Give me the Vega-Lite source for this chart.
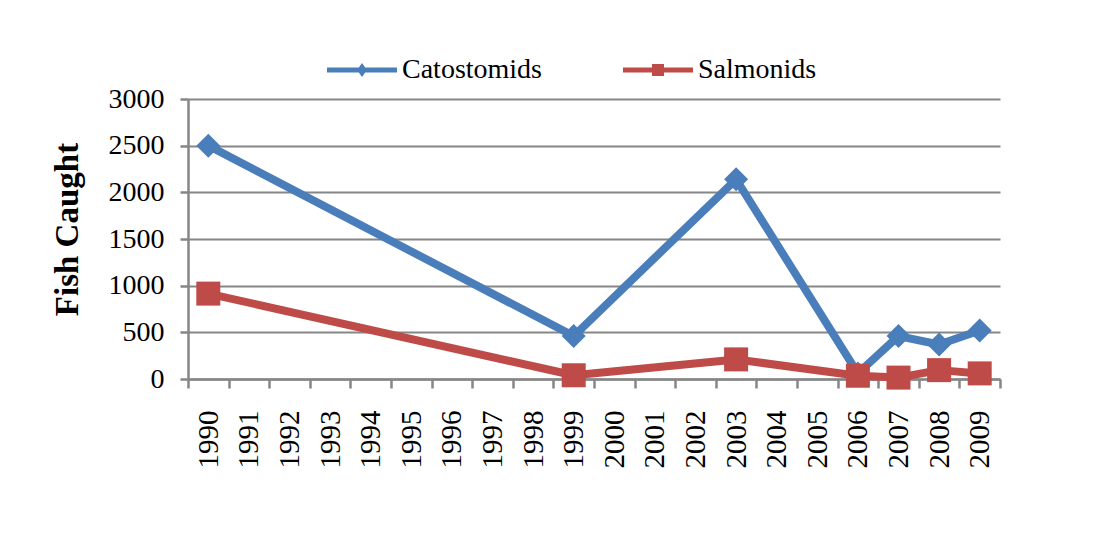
{
  "$schema": "https://vega.github.io/schema/vega-lite/v6.json",
  "width": 812,
  "height": 280,
  "autosize": "none",
  "padding": {"left": 188, "top": 99, "right": 96, "bottom": 173},
  "background": "white",
  "config": {"view": {"stroke": null}, "font": "Liberation Serif"},
  "data": {
    "values": [
      {"year": "1990", "series": "Catostomids", "fish": 2500},
      {"year": "1999", "series": "Catostomids", "fish": 460},
      {"year": "2003", "series": "Catostomids", "fish": 2140},
      {"year": "2006", "series": "Catostomids", "fish": 60},
      {"year": "2007", "series": "Catostomids", "fish": 460},
      {"year": "2008", "series": "Catostomids", "fish": 370},
      {"year": "2009", "series": "Catostomids", "fish": 520},
      {"year": "1990", "series": "Salmonids", "fish": 915},
      {"year": "1999", "series": "Salmonids", "fish": 40},
      {"year": "2003", "series": "Salmonids", "fish": 210},
      {"year": "2006", "series": "Salmonids", "fish": 35},
      {"year": "2007", "series": "Salmonids", "fish": 15},
      {"year": "2008", "series": "Salmonids", "fish": 95},
      {"year": "2009", "series": "Salmonids", "fish": 60}
    ]
  },
  "encoding": {
    "x": {
      "field": "year",
      "type": "ordinal",
      "bandPosition": 0.5,
      "scale": {
        "type": "band",
        "domain": ["1990","1991","1992","1993","1994","1995","1996","1997","1998","1999","2000","2001","2002","2003","2004","2005","2006","2007","2008","2009"],
        "paddingInner": 0,
        "paddingOuter": 0
      },
      "axis": {
        "title": null,
        "grid": false,
        "tickBand": "extent",
        "labelAngle": -90,
        "labelAlign": "right",
        "labelBaseline": "middle",
        "labelFont": "Liberation Serif",
        "labelFontSize": 29,
        "labelColor": "black",
        "labelPadding": 22,
        "tickSize": 9,
        "tickColor": "#868686",
        "tickWidth": 2.5,
        "domainColor": "#868686",
        "domainWidth": 2.5
      }
    },
    "y": {
      "field": "fish",
      "type": "quantitative",
      "scale": {"domain": [0, 3000], "nice": false, "zero": true},
      "axis": {
        "title": "Fish Caught",
        "titleFont": "Liberation Serif",
        "titleFontSize": 33,
        "titleFontWeight": "bold",
        "titleColor": "black",
        "titlePadding": 24,
        "titleY": 130,
        "values": [0, 500, 1000, 1500, 2000, 2500, 3000],
        "format": "d",
        "labelFont": "Liberation Serif",
        "labelFontSize": 28,
        "labelColor": "black",
        "labelPadding": 16,
        "tickSize": 8,
        "tickColor": "#868686",
        "tickWidth": 2.5,
        "domainColor": "#868686",
        "domainWidth": 2.5,
        "gridColor": "#868686",
        "gridWidth": 2.2
      }
    },
    "color": {
      "field": "series",
      "type": "nominal",
      "scale": {"domain": ["Catostomids", "Salmonids"], "range": ["#4A7EBB", "#BE4B48"]},
      "legend": {
        "title": null,
        "orient": "none",
        "direction": "horizontal",
        "legendX": 160,
        "legendY": -43,
        "labelFont": "Liberation Serif",
        "labelFontSize": 28,
        "labelColor": "black",
        "symbolSize": 100,
        "symbolStrokeWidth": 0,
        "symbolOpacity": 1,
        "labelOffset": 26,
        "columnPadding": 80
      }
    }
  },
  "layer": [
    {
      "mark": {"type": "line", "strokeWidth": 8, "strokeJoin": "round", "strokeCap": "round"}
    },
    {
      "mark": {"type": "point", "filled": true, "opacity": 0},
      "encoding": {
        "shape": {
          "field": "series",
          "type": "nominal",
          "scale": {
            "domain": ["Catostomids", "Salmonids"],
            "range": ["M-7,-0.5H7V0.5H-7Z M0,-1.4L1,0L0,1.4L-1,0Z", "M-7,-0.5H7V0.5H-7Z M-1.2,-1.2H1.2V1.2H-1.2Z"]
          },
          "legend": {
            "title": null,
            "orient": "none",
            "direction": "horizontal",
            "legendX": 160,
            "legendY": -43,
            "labelFont": "Liberation Serif",
            "labelFontSize": 28,
            "labelColor": "black",
            "symbolSize": 100,
            "symbolStrokeWidth": 0,
            "symbolOpacity": 1,
            "labelOffset": 26,
            "columnPadding": 80
          }
        }
      }
    },
    {
      "transform": [{"filter": "datum.series === 'Catostomids'"}],
      "mark": {"type": "point", "filled": true, "shape": "diamond", "size": 576, "opacity": 1}
    },
    {
      "transform": [{"filter": "datum.series === 'Salmonids'"}],
      "mark": {"type": "point", "filled": true, "shape": "square", "size": 576, "opacity": 1}
    }
  ]
}
